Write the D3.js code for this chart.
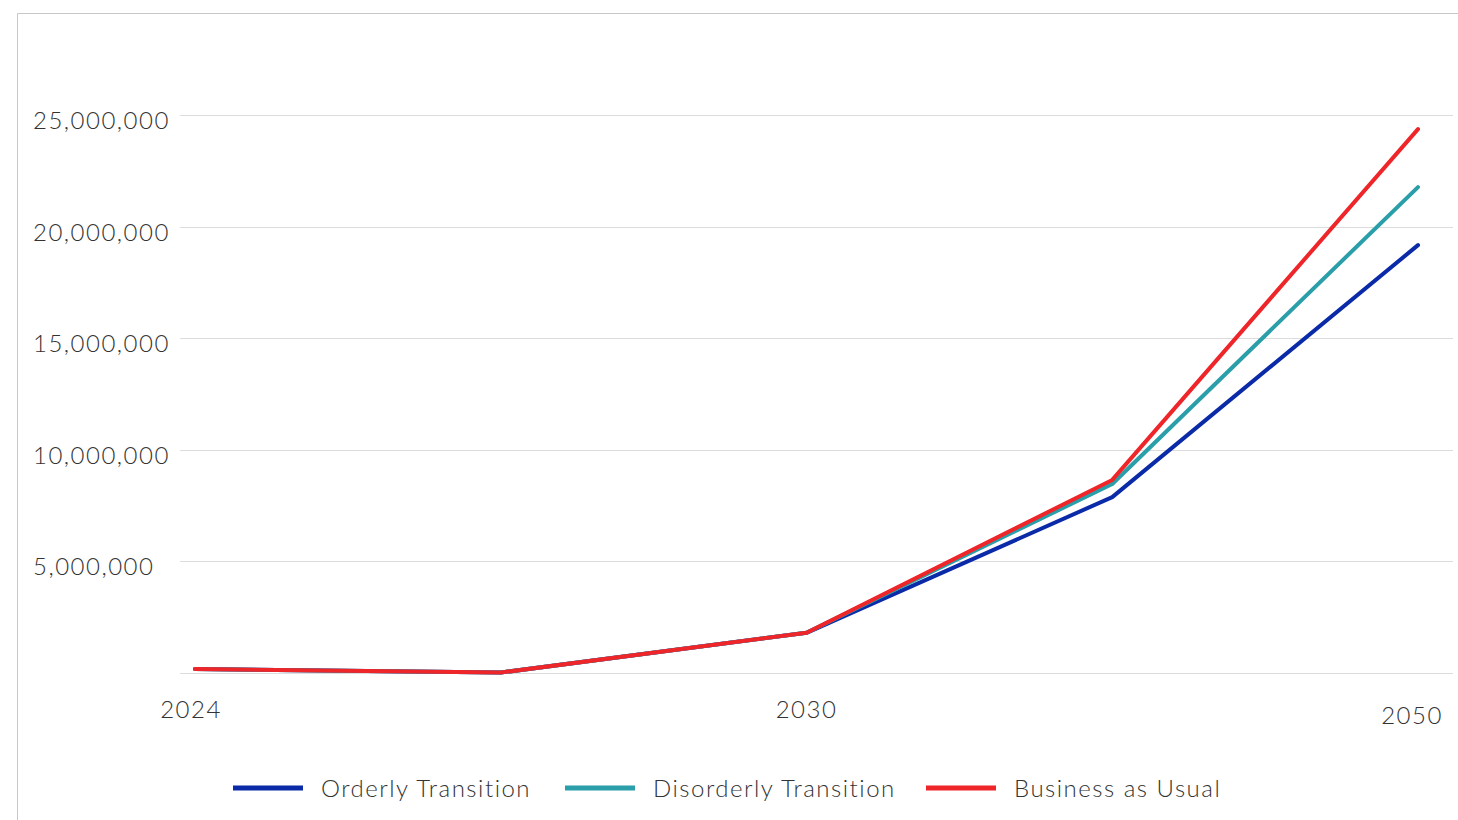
<!DOCTYPE html>
<html>
<head>
<meta charset="utf-8">
<script src="https://cdn.jsdelivr.net/npm/d3@7"></script>
<style>
  body { margin: 0; background: #fff; font-family: 'Lato', 'Open Sans', sans-serif; }
  svg text { fill: #333; }
</style>
</head>
<body>
<script>
const years = ['2024', '2025', '2030', '2040', '2050'];
const tickYears = ['2024', '2030', '2050'];
const yTicks = [5000000, 10000000, 15000000, 20000000, 25000000];

const orderly = [180000, 20000, 1800000, 7880000, 19170000];
const disorderly = [180000, 20000, 1800000, 8470000, 21770000];
const business = [180000, 20000, 1800000, 8650000, 24370000];

const seriesNames = ['Orderly Transition', 'Disorderly Transition', 'Business as Usual'];
const seriesColors = ['#0b2aa8', '#2a9ea9', '#ee2529'];

const W = 1458;
const H = 820;
const margin = { top: 115, right: 40, bottom: 147, left: 195 };

const svg = d3.select('body').append('svg')
  .attr('width', W)
  .attr('height', H);

// frame
svg.append('path')
  .attr('d', `M17.5,${H}V13.5H${W}`)
  .attr('fill', 'none')
  .attr('stroke', '#c8c8c8');

const x = d3.scalePoint()
  .domain(years)
  .range([margin.left, W - margin.right]);

const y = d3.scaleLinear()
  .domain([0, 25000000])
  .range([H - margin.bottom, margin.top]);

// gridlines
svg.append('g')
  .selectAll('line')
  .data([0].concat(yTicks))
  .enter().append('line')
  .attr('x1', 180)
  .attr('x2', 1453)
  .attr('y1', d => Math.round(y(d)) + 0.5)
  .attr('y2', d => Math.round(y(d)) + 0.5)
  .attr('stroke', '#dcdcdc')
  .attr('stroke-width', 1);

// y labels
svg.append('g')
  .selectAll('text')
  .data(yTicks)
  .enter().append('text')
  .attr('x', 33)
  .attr('y', d => y(d) + 14)
  .style('font-size', '24px')
  .style('font-weight', 300)
  .style('letter-spacing', '1.5px')
  .text(d => d3.format(',')(d));

// x labels (2050 sits a bit lower in the original)
const xOffset = { '2024': -4, '2030': 0, '2050': -6 };
svg.append('g')
  .selectAll('text')
  .data(tickYears)
  .enter().append('text')
  .attr('x', d => x(d) + xOffset[d])
  .attr('y', d => (d === '2050' ? 724 : 718))
  .attr('text-anchor', 'middle')
  .style('font-size', '24px')
  .style('font-weight', 300)
  .style('letter-spacing', '1.5px')
  .text(d => d);

const line = d3.line()
  .x((d, i) => x(years[i]))
  .y(d => y(d));

svg.append('g')
  .selectAll('path')
  .data([orderly, disorderly, business])
  .enter().append('path')
  .attr('d', line)
  .attr('fill', 'none')
  .attr('stroke', (d, i) => seriesColors[i])
  .attr('stroke-width', 4)
  .attr('stroke-linecap', 'round')
  .attr('stroke-linejoin', 'round');

// legend
const legendX = [233, 565, 926];
const legend = svg.append('g')
  .selectAll('g')
  .data(seriesNames)
  .enter().append('g')
  .attr('transform', (d, i) => `translate(${legendX[i]}, 788)`);

legend.append('line')
  .attr('x1', 0)
  .attr('x2', 70)
  .attr('stroke', (d, i) => seriesColors[i])
  .attr('stroke-width', 5);

legend.append('text')
  .attr('x', 88)
  .attr('y', 9)
  .style('font-size', '24px')
  .style('font-weight', 300)
  .style('letter-spacing', '1.5px')
  .text(d => d);
</script>
</body>
</html>
